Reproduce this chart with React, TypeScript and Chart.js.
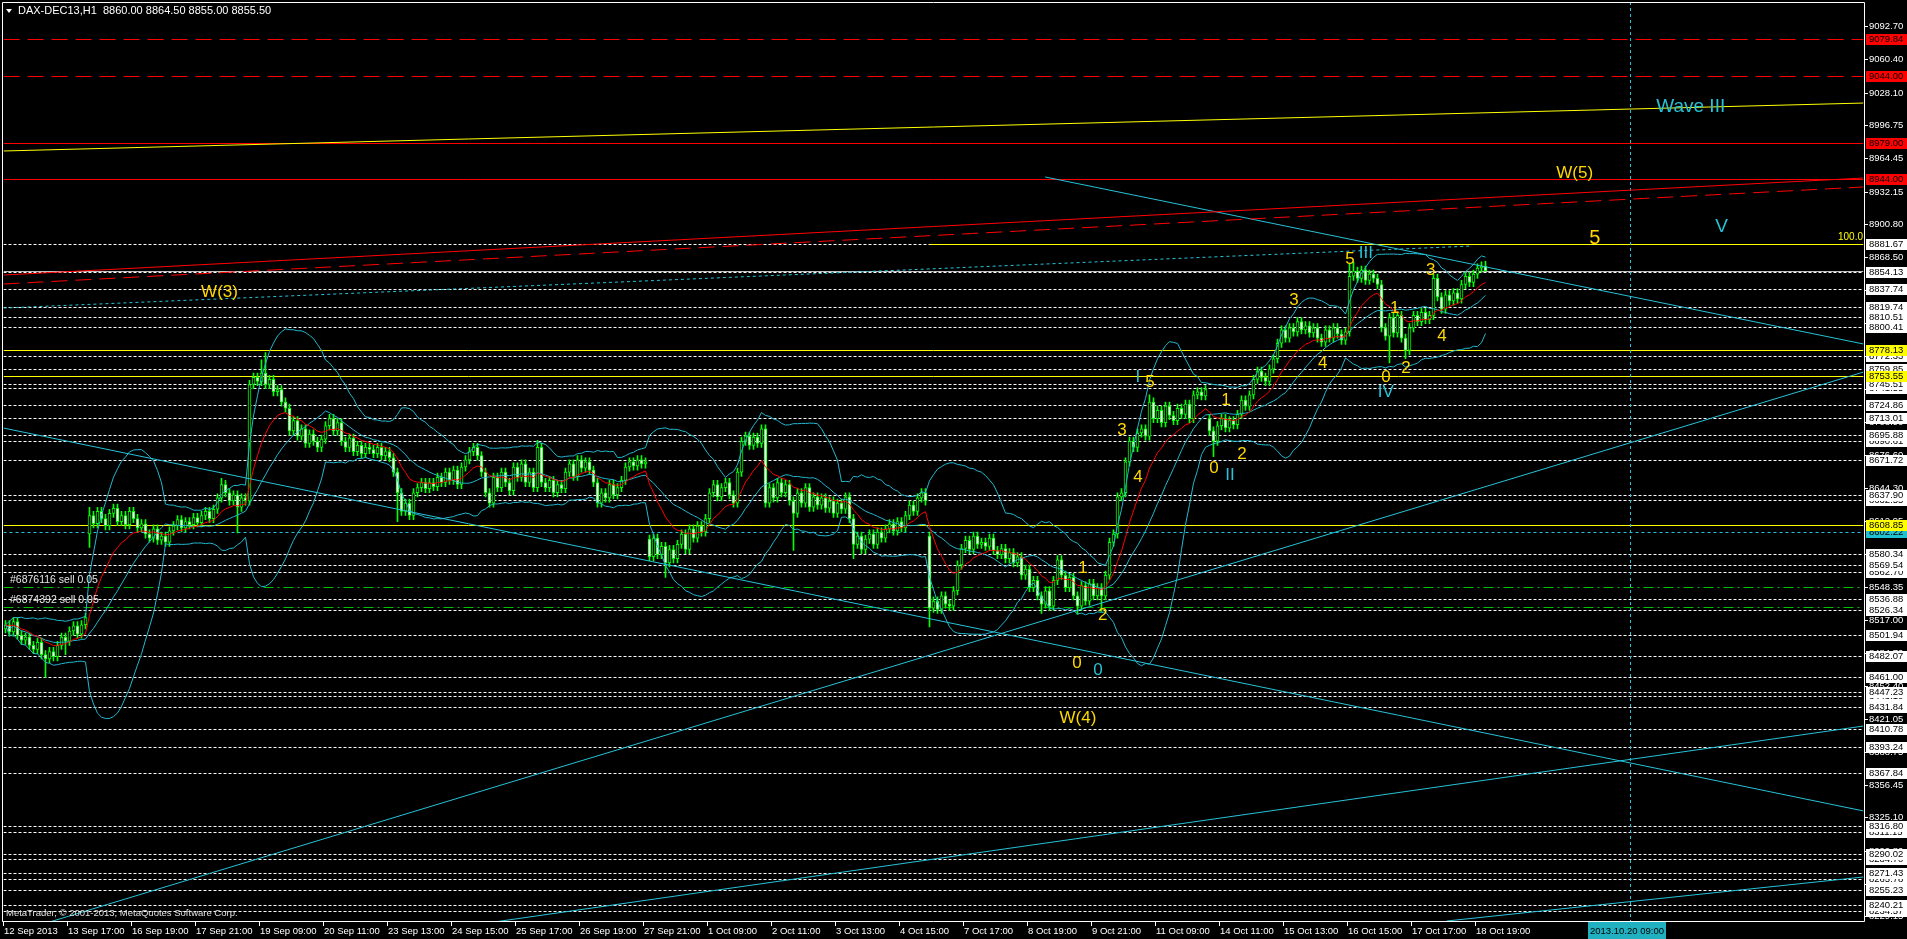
import React, { useEffect, useRef } from "react";
import { Chart, registerables } from "chart.js";

Chart.register(...registerables);

// ---------------- DATA ----------------
const titleText = "DAX-DEC13,H1  8860.00 8864.50 8855.00 8855.50";
const copyrightText = "MetaTrader, \u00A9 2001-2013, MetaQuotes Software Corp.";

// hourly closes, one row per trading day (12 Sep 15:00 ... 18 Oct 21:00)
const closesByDay: number[][] = [
  [8512, 8505, 8515, 8502, 8497, 8500, 8492], // 12 Sep
  [8488, 8495, 8483, 8479, 8486, 8481, 8492, 8500, 8496, 8506, 8511, 8503, 8512, 8519], // 13 Sep
  [8618, 8610, 8622, 8615, 8608, 8620, 8625, 8612, 8618, 8609, 8622, 8615, 8606, 8610], // 16 Sep
  [8600, 8596, 8605, 8594, 8598, 8592, 8603, 8608, 8614, 8606, 8612, 8609, 8616, 8611], // 17 Sep
  [8618, 8622, 8615, 8624, 8635, 8648, 8640, 8632, 8638, 8626, 8635, 8632, 8745, 8752], // 18 Sep
  [8748, 8756, 8745, 8750, 8738, 8740, 8728, 8722, 8700, 8710, 8695, 8702, 8688, 8697], // 19 Sep
  [8690, 8684, 8692, 8705, 8712, 8700, 8708, 8690, 8684, 8693, 8680, 8686, 8678, 8684], // 20 Sep
  [8682, 8678, 8684, 8676, 8680, 8674, 8660, 8640, 8622, 8630, 8618, 8640, 8645, 8650], // 23 Sep
  [8644, 8650, 8646, 8655, 8650, 8660, 8652, 8662, 8648, 8665, 8672, 8680, 8684, 8676], // 24 Sep
  [8660, 8640, 8630, 8655, 8645, 8660, 8650, 8642, 8665, 8655, 8668, 8650, 8660, 8645], // 25 Sep
  [8684, 8650, 8645, 8652, 8640, 8648, 8644, 8660, 8668, 8656, 8672, 8664, 8670, 8662], // 26 Sep
  [8650, 8630, 8640, 8635, 8648, 8638, 8645, 8652, 8665, 8670, 8666, 8672, 8668, 8670], // 27 Sep
  [8578, 8596, 8580, 8588, 8572, 8585, 8576, 8590, 8600, 8585, 8605, 8596, 8608, 8602], // 30 Sep
  [8615, 8640, 8648, 8636, 8645, 8650, 8638, 8630, 8660, 8690, 8695, 8686, 8694, 8688], // 1 Oct
  [8702, 8630, 8645, 8635, 8650, 8640, 8648, 8632, 8620, 8640, 8630, 8645, 8626, 8636], // 2 Oct
  [8628, 8635, 8625, 8632, 8620, 8630, 8624, 8636, 8615, 8590, 8598, 8585, 8595, 8600], // 3 Oct
  [8590, 8602, 8596, 8605, 8610, 8603, 8612, 8606, 8618, 8628, 8622, 8635, 8640, 8632], // 4 Oct
  [8528, 8535, 8527, 8540, 8532, 8530, 8545, 8570, 8586, 8594, 8585, 8598, 8590, 8592], // 7 Oct
  [8588, 8596, 8584, 8580, 8586, 8576, 8582, 8572, 8578, 8560, 8566, 8548, 8555, 8540], // 8 Oct
  [8532, 8545, 8530, 8555, 8575, 8560, 8548, 8558, 8540, 8530, 8550, 8535, 8552, 8540], // 9 Oct
  [8548, 8540, 8560, 8592, 8600, 8636, 8640, 8670, 8690, 8684, 8698, 8702, 8695, 8728], // 10 Oct
  [8712, 8720, 8708, 8724, 8715, 8710, 8722, 8716, 8726, 8712, 8735, 8738, 8734, 8740], // 11 Oct
  [8700, 8690, 8705, 8712, 8703, 8710, 8706, 8716, 8730, 8724, 8735, 8750, 8758, 8752], // 14 Oct
  [8748, 8760, 8770, 8785, 8798, 8790, 8800, 8796, 8806, 8798, 8802, 8795, 8800, 8790], // 15 Oct
  [8786, 8798, 8790, 8800, 8794, 8788, 8796, 8850, 8855, 8848, 8856, 8846, 8852, 8848], // 16 Oct
  [8842, 8800, 8792, 8810, 8795, 8812, 8790, 8778, 8800, 8812, 8806, 8815, 8808, 8812], // 17 Oct
  [8848, 8830, 8818, 8832, 8826, 8834, 8828, 8842, 8850, 8844, 8852, 8858, 8860, 8855.5], // 18 Oct
];
const closes: number[] = closesByDay.flat();

// opens that differ from the previous close (session gaps): [bar, open]
const gapOpens: [number, number][] = [[0, 8508], [21, 8600], [161, 8595], [231, 8598], [301, 8712]];
// wick extremes: [bar, high | null, low | null]
const wickExtremes: [number, number | null, number | null][] = [
  [10, null, 8461], [15, null, 8483], [21, 8626, 8587], [54, 8654, null], [58, null, 8601],
  [64, 8769, null], [65, 8776, null], [98, null, 8612], [133, 8691, null], [165, null, 8558],
  [189, 8706, null], [197, null, 8584], [212, null, 8576], [231, null, 8510], [259, null, 8523],
  [268, null, 8522], [274, null, 8525], [286, 8735, null], [302, null, 8675], [336, 8862, null],
  [337, 8864, null], [346, null, 8766], [350, null, 8770], [357, 8852, null], [370, 8864.5, 8855],
];
const typicalWick = 4; // points of wick beyond the body where no extreme was read

const totalSlots = 465; // bars incl. future space of the MT4 window
const timeTickBars = [0, 16, 32, 48, 64, 80, 96, 112, 128, 144, 160, 176, 192, 208, 224, 240, 256, 272, 288, 304, 320, 336, 352, 368];
const timeTickLabels = [
  "12 Sep 2013", "13 Sep 17:00", "16 Sep 19:00", "17 Sep 21:00", "19 Sep 09:00", "20 Sep 11:00",
  "23 Sep 13:00", "24 Sep 15:00", "25 Sep 17:00", "26 Sep 19:00", "27 Sep 21:00", "1 Oct 09:00",
  "2 Oct 11:00", "3 Oct 13:00", "4 Oct 15:00", "7 Oct 17:00", "8 Oct 19:00", "9 Oct 21:00",
  "11 Oct 09:00", "14 Oct 11:00", "15 Oct 13:00", "16 Oct 15:00", "17 Oct 17:00", "18 Oct 19:00",
];
const futureBar = 406;
const futureLabel = "2013.10.20 09:00";

const priceMin = 8224.7;
const priceMax = 9116.0;
const priceTicks = [
  9092.7, 9060.4, 9028.1, 8996.75, 8964.45, 8932.15, 8900.8, 8868.5, 8836.2, 8804.85, 8772.55,
  8740.25, 8708.9, 8676.6, 8644.3, 8612.95, 8580.65, 8548.35, 8517.0, 8484.7, 8452.4, 8421.05,
  8388.75, 8356.45, 8325.1, 8292.8, 8260.5, 8229.15,
];
const whiteLevels = [
  8881.67, 8854.13, 8837.74, 8819.74, 8810.51, 8800.41, 8772.33, 8759.85, 8745.51, 8741.55,
  8724.86, 8713.01, 8695.88, 8690.61, 8671.72, 8637.9, 8632.55, 8580.34, 8569.54, 8562.7,
  8536.88, 8526.34, 8501.94, 8482.07, 8461.0, 8447.23, 8443.1, 8431.84, 8410.78, 8393.24,
  8367.84, 8316.8, 8311.15, 8290.02, 8284.7, 8271.43, 8265.78, 8255.23, 8240.21, 8234.57,
];
const yellowLevels = [8778.13, 8753.55, 8608.85];
const redDashedLevels = [9079.84, 9044.0];
const redSolidLevels = [8979.0, 8944.0];
const cyanLevels = [8602.22];
const bidPrice = 8855.5;
const fibLevel = 8881.67;
const fibStartBar = 231;
const fibLabel = "100.0";
const orderLevels: [number, string][] = [[8548.5, "#6876116 sell 0.05"], [8529.0, "#6874392 sell 0.05"]];

// trend lines: [[bar, price], [bar, price]]
const trendRedSolid = [[-0.5, 8851.2], [464.5, 8945.3]];
const trendRedDashed = [[-0.5, 8842.5], [464.5, 8936.6]];
const trendYellow = [[-0.5, 8971.5], [464.5, 9018.0]];
const trendCyanDownUpper = [[259.9, 8946.3], [464.5, 8784.3]];
const trendCyanDownLower = [[-0.5, 8702.8], [464.5, 8331.4]];
const trendCyanUpA = [[-0.5, 8210.2], [464.5, 8757.1]];
const trendCyanUpB = [[118.7, 8221.8], [464.5, 8413.8]];
const trendCyanUpC = [[360.3, 8224.7], [464.5, 8267.4]];
const trendCyanDotted = [[-0.5, 8819.2], [366.3, 8879.3]];

// wave labels: [text, bar, price]
const yellowWaveLabels: [string, number, number][] = [
  ["W(3)", 53.5, 8834.7], ["W(5)", 392.3, 8950.1], ["5", 336.1, 8866.7], ["3", 322.1, 8826.9],
  ["4", 329.3, 8765.9], ["0", 345.1, 8752.3], ["2", 350.1, 8761.0], ["1", 347.3, 8819.2],
  ["3", 356.3, 8856.1], ["4", 359.1, 8792.1], ["5", 286.1, 8747.4], ["1", 305.1, 8730.0],
  ["3", 279.1, 8700.9], ["4", 283.1, 8655.3], ["0", 302.1, 8664.0], ["2", 309.1, 8677.6],
  ["1", 269.4, 8567.1], ["2", 274.3, 8521.5], ["0", 267.9, 8475.0], ["W(4)", 268.1, 8421.5],
];
const cyanWaveLabels: [string, number, number][] = [
  ["III", 340.1, 8872.5], ["IV", 345.1, 8737.7], ["I", 283.1, 8752.3], ["II", 306.1, 8657.2],
  ["0", 273.1, 8468.1],
];
const bigYellowLabels: [string, number, number][] = [["5", 397.3, 8887.1]];
const bigCyanLabels: [string, number, number][] = [["Wave III", 421.3, 9014.1], ["V", 429.0, 8897.8]];

// ---------------- DERIVED ----------------
const gapMap = new Map(gapOpens);
const extMap = new Map(wickExtremes.map(([b, h, l]) => [b, { h, l }]));
const opens = closes.map((c, i) => (gapMap.has(i) ? (gapMap.get(i) as number) : closes[i - 1]));
const highs = closes.map((c, i) => {
  const e: any = extMap.get(i);
  return e && e.h != null ? e.h : Math.max(opens[i], c) + typicalWick;
});
const lows = closes.map((c, i) => {
  const e: any = extMap.get(i);
  return e && e.l != null ? e.l : Math.min(opens[i], c) - typicalWick;
});

function ema(src: number[], n: number) {
  const k = 2 / (n + 1);
  let prev = src[0];
  return src.map((v, i) => (prev = i === 0 ? v : prev + k * (v - prev)));
}
function bollinger(src: number[], n: number, d: number) {
  const mid: number[] = [], up: number[] = [], lo: number[] = [];
  src.forEach((_, i) => {
    const w = src.slice(Math.max(0, i - n + 1), i + 1);
    const m = w.reduce((a, b) => a + b, 0) / w.length;
    const sd = Math.sqrt(w.reduce((a, b) => a + (b - m) * (b - m), 0) / w.length);
    mid.push(m); up.push(m + d * sd); lo.push(m - d * sd);
  });
  return { mid, up, lo };
}
const maRed = ema(closes, 12);
const bb = bollinger(closes, 20, 2);

const LIME = "#00ff00";
const BAND = "#22b8cf";
const TREND = "#26c2d8";
const GOLD = "#ffd800";
const SANS = '"Liberation Sans", Arial, sans-serif';

const pts = (arr: number[]) => arr.map((v, i) => ({ x: i, y: v }));
const seg = (s: number[][]) => s.map(([x, y]) => ({ x, y }));

const mtPlugin: any = {
  id: "mt4look",
  beforeDraw(chart: any) {
    const { ctx, width, height } = chart;
    ctx.save();
    ctx.fillStyle = "#000";
    ctx.fillRect(0, 0, width, height);
    ctx.restore();
  },
  beforeDatasetsDraw(chart: any) {
    const { ctx, chartArea: a, scales } = chart;
    const x = scales.x, y = scales.y;
    const py = (v: number) => Math.round(y.getPixelForValue(v)) + 0.5;
    ctx.save();
    ctx.beginPath();
    ctx.rect(a.left, a.top, a.right - a.left, a.bottom - a.top);
    ctx.clip();
    ctx.lineWidth = 1;
    const hline = (v: number, color: string, dash: number[], x0 = a.left, x1 = a.right) => {
      ctx.strokeStyle = color;
      ctx.setLineDash(dash);
      ctx.beginPath();
      ctx.moveTo(x0, py(v));
      ctx.lineTo(x1, py(v));
      ctx.stroke();
    };
    whiteLevels.forEach((v) => hline(v, "#ffffff", [3, 2]));
    hline(bidPrice, "#c0c0c0", []);
    redDashedLevels.forEach((v) => hline(v, "#ff0000", [16, 8]));
    redSolidLevels.forEach((v) => hline(v, "#ff0000", []));
    yellowLevels.forEach((v) => hline(v, "#ffff00", []));
    hline(fibLevel, "#ffff00", [], x.getPixelForValue(fibStartBar), a.right);
    cyanLevels.forEach((v) => hline(v, TREND, [3, 3]));
    orderLevels.forEach(([v]) => hline(v, "#00c000", [10, 4, 2, 4]));
    // future time marker
    const fx = Math.round(x.getPixelForValue(futureBar)) + 0.5;
    ctx.strokeStyle = TREND;
    ctx.setLineDash([3, 3]);
    ctx.beginPath();
    ctx.moveTo(fx, a.top);
    ctx.lineTo(fx, a.bottom);
    ctx.stroke();
    ctx.restore();
  },
  afterDraw(chart: any) {
    const { ctx, chartArea: a, scales, width } = chart;
    const x = scales.x, y = scales.y;
    const right = Math.round(a.right);
    const bottom = Math.round(a.bottom);
    ctx.save();
    // frame
    ctx.strokeStyle = "#ffffff";
    ctx.lineWidth = 1;
    ctx.setLineDash([]);
    ctx.beginPath();
    ctx.moveTo(2.5, bottom + 0.5);
    ctx.lineTo(2.5, 2.5);
    ctx.lineTo(right + 0.5, 2.5);
    ctx.lineTo(right + 0.5, bottom + 0.5);
    ctx.lineTo(2.5, bottom + 0.5);
    ctx.stroke();

    // wave labels
    ctx.textAlign = "center";
    ctx.textBaseline = "middle";
    const lbl = (list: [string, number, number][], color: string, size: number) => {
      ctx.fillStyle = color;
      ctx.font = `${size}px ${SANS}`;
      list.forEach(([t, b, p]) => ctx.fillText(t, x.getPixelForValue(b), y.getPixelForValue(p)));
    };
    lbl(yellowWaveLabels, GOLD, 17);
    lbl(cyanWaveLabels, TREND, 17);
    lbl(bigYellowLabels, GOLD, 20);
    lbl(bigCyanLabels, TREND, 19);

    // fib label
    ctx.font = `10px ${SANS}`;
    ctx.fillStyle = "#ffff00";
    ctx.textAlign = "right";
    ctx.textBaseline = "bottom";
    ctx.fillText(fibLabel, right - 1, y.getPixelForValue(fibLevel) - 1);

    // order labels
    ctx.textAlign = "left";
    ctx.textBaseline = "bottom";
    ctx.fillStyle = "#e6e6e6";
    ctx.font = `10.5px ${SANS}`;
    orderLevels.forEach(([v, t]) => ctx.fillText(t, 10, y.getPixelForValue(v) - 2));

    // title
    ctx.fillStyle = "#ffffff";
    ctx.beginPath();
    ctx.moveTo(6, 9);
    ctx.lineTo(12, 9);
    ctx.lineTo(9, 13);
    ctx.closePath();
    ctx.fill();
    ctx.font = `11px ${SANS}`;
    ctx.textBaseline = "middle";
    ctx.fillText(titleText, 18, 11);

    // copyright
    ctx.font = `9.5px ${SANS}`;
    ctx.fillStyle = "#e0e0e0";
    ctx.fillText(copyrightText, 6, bottom - 8);

    // time axis
    ctx.font = `9.5px ${SANS}`;
    ctx.fillStyle = "#ffffff";
    ctx.textAlign = "left";
    ctx.textBaseline = "middle";
    timeTickBars.forEach((b, i) => {
      const tx = Math.round(x.getPixelForValue(b)) - 3;
      ctx.fillRect(tx, bottom + 1, 1, 4);
      ctx.fillText(timeTickLabels[i], tx + 1, bottom + 10);
    });
    const fx = Math.round(x.getPixelForValue(futureBar));
    ctx.fillStyle = "#20b0c0";
    ctx.fillRect(fx - 42, bottom + 1, 78, 17);
    ctx.fillStyle = "#000000";
    ctx.textAlign = "center";
    ctx.fillText(futureLabel, fx - 3, bottom + 10);

    // price axis
    ctx.textAlign = "left";
    ctx.textBaseline = "middle";
    ctx.font = `9.5px ${SANS}`;
    priceTicks.forEach((v) => {
      const yy = Math.round(y.getPixelForValue(v));
      ctx.fillStyle = "#ffffff";
      ctx.fillRect(right + 1, yy, 3, 1);
      ctx.fillText(v.toFixed(2), right + 5, yy + 0.5);
    });
    const box = (v: number, bg: string, fg: string) => {
      const yy = Math.round(y.getPixelForValue(v));
      ctx.fillStyle = bg;
      ctx.fillRect(right + 2, yy - 5, width - right - 2, 11);
      ctx.fillStyle = fg;
      ctx.fillText(v.toFixed(2), right + 5, yy + 0.5);
    };
    [...whiteLevels].sort((p, q) => p - q).forEach((v) => box(v, "#ffffff", "#000000"));
    cyanLevels.forEach((v) => box(v, "#20c0d0", "#000000"));
    yellowLevels.forEach((v) => box(v, "#ffff00", "#000000"));
    [...redDashedLevels, ...redSolidLevels].forEach((v) => box(v, "#ff0000", "#000000"));
    ctx.restore();
  },
};

export default function App() {
  const ref = useRef<HTMLCanvasElement | null>(null);
  useEffect(() => {
    document.body.style.margin = "0";
    document.body.style.background = "#000";
    const canvas = ref.current;
    if (!canvas) return;
    const bodies = closes.map((c, i) => {
      const o = opens[i];
      const lo = Math.min(o, c), hi = Math.max(o, c);
      return { x: i, y: hi - lo < 0.8 ? [lo - 0.4, lo + 0.4] : [lo, hi] };
    });
    const bodyFill = closes.map((c, i) => (c >= opens[i] ? "#000000" : "#ffffff"));
    const wicks = closes.map((_, i) => ({ x: i, y: [lows[i], highs[i]] }));
    const line = (data: any[], color: string, order: number, dash: number[] = []) => ({
      type: "line",
      data,
      borderColor: color,
      borderWidth: 1,
      borderDash: dash,
      pointRadius: 0,
      tension: 0,
      fill: false,
      order,
    });
    const chart = new Chart(canvas, {
      type: "bar",
      data: {
        datasets: [
          { type: "bar", data: wicks, backgroundColor: LIME, borderWidth: 0, barThickness: 1, grouped: false, order: 6 } as any,
          { type: "bar", data: bodies, backgroundColor: bodyFill, borderColor: LIME, borderWidth: 1, borderSkipped: false, barThickness: 3, grouped: false, order: 5 } as any,
          line(pts(bb.up), BAND, 3),
          line(pts(bb.mid), BAND, 3),
          line(pts(bb.lo), BAND, 3),
          line(pts(maRed), "#ff0000", 2),
          line(seg(trendRedSolid), "#ff0000", 1),
          line(seg(trendRedDashed), "#ff0000", 1, [16, 8]),
          line(seg(trendYellow), "#ffff00", 1),
          line(seg(trendCyanDownUpper), TREND, 1),
          line(seg(trendCyanDownLower), TREND, 1),
          line(seg(trendCyanUpA), TREND, 1),
          line(seg(trendCyanUpB), TREND, 1),
          line(seg(trendCyanUpC), TREND, 1),
          line(seg(trendCyanDotted), TREND, 1, [3, 3]),
        ] as any,
      },
      options: {
        responsive: false,
        animation: false,
        devicePixelRatio: 1,
        events: [],
        layout: { padding: { left: 3.5, right: 43.5, top: 2, bottom: 18 } },
        plugins: { legend: { display: false }, tooltip: { enabled: false }, title: { display: false } },
        scales: {
          x: { type: "linear", min: -0.5, max: totalSlots - 0.5, offset: false, display: false },
          y: { type: "linear", min: priceMin, max: priceMax, display: false },
        },
      } as any,
      plugins: [mtPlugin],
    });
    return () => chart.destroy();
  }, []);
  return <canvas ref={ref} width={1907} height={939} style={{ display: "block" }} />;
}
